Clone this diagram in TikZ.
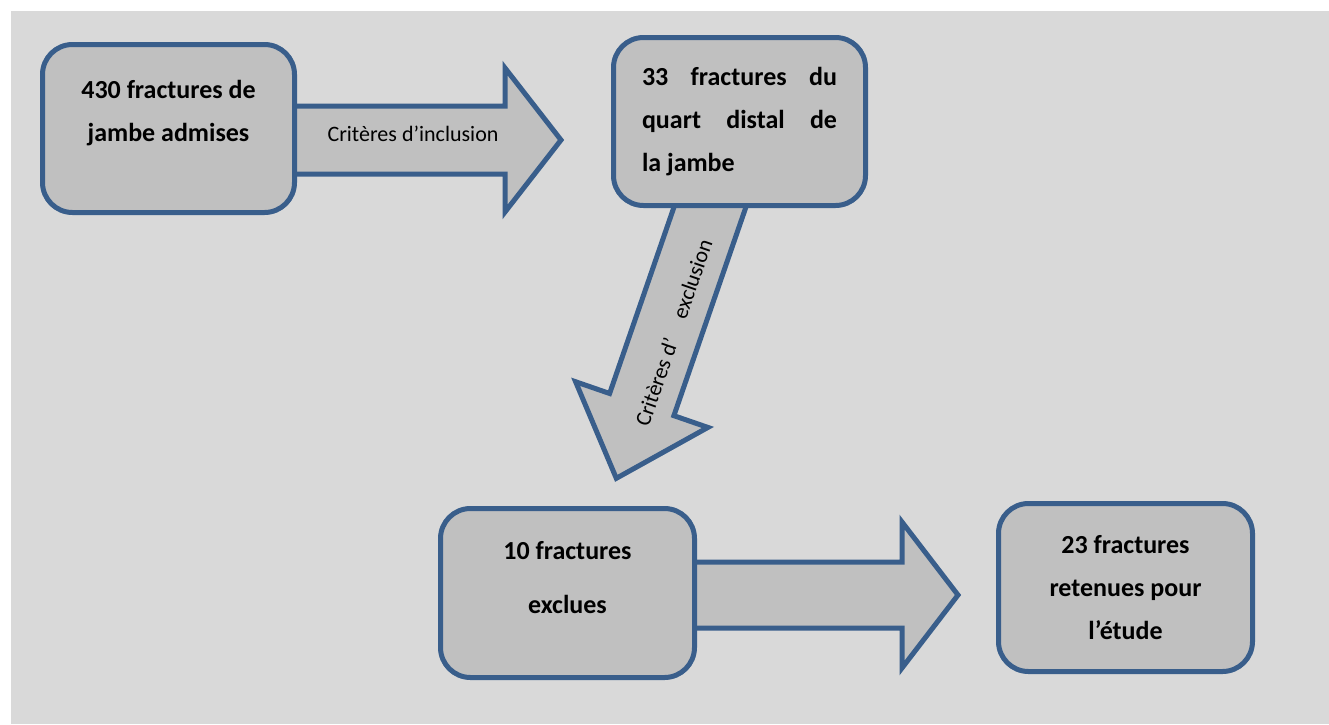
\documentclass[tikz,border=0pt]{standalone}
\usepackage{fontspec}
\setmainfont{Carlito}
\usepackage{xcolor}
\usepackage{tikz}
\usetikzlibrary{calc, backgrounds}
\definecolor{bgcolor}{RGB}{217,217,217}
\definecolor{boxcolor}{RGB}{192,192,192}
\definecolor{edgecolor}{RGB}{57,94,139}

% wide flat arrow: tail, tip, half shaft, half head, head length
\newcommand{\blockarrow}[5]{%
  \coordinate (ba-base) at ($(#2)!#5!(#1)$);
  \draw[bigarrow] ($(#1)!#3!90:(#2)$) -- ($(ba-base)!#3!90:(#2)$) -- ($(ba-base)!#4!90:(#2)$) -- (#2)
    -- ($(ba-base)!#4!-90:(#2)$) -- ($(ba-base)!#3!-90:(#2)$) -- ($(#1)!#3!-90:(#2)$) -- cycle;
}

\begin{document}
\begin{tikzpicture}[
            x=0.5pt, y=-0.5pt,
            block/.style={rectangle, draw=edgecolor, line width=2.5pt, rounded corners=15pt, fill=boxcolor, minimum width=126pt, minimum height=84pt, font=\bfseries\fontsize{13}{21.5}\selectfont, align=center},
            bigarrow/.style={draw=edgecolor, line width=2.5pt, fill=boxcolor},
            arrowlabel/.style={font=\fontsize{11}{13}\selectfont, inner sep=0pt}
        ]
            \useasboundingbox (0,0) rectangle (1329,724);
            \node[block] (admitted) at (168.5,128.5) {430 fractures de\\jambe admises\\[-4pt]\mbox{}};
            \node[block, align=justify, text width=97.5pt] (distal) at (739.5,121.5) {33\hfill fractures\hfill du\\quart\hfill distal\hfill de\\la jambe};
            \node[block, minimum width=127pt, minimum height=84.5pt] (excluded) at (567.5,593) {10 fractures\\[5.5pt]exclues\\[-6pt]\mbox{}};
            \node[block, minimum width=127pt] (retained) at (1125.5,587.5) {23 fractures\\retenues pour\\l’étude};

            \coordinate (inclTip) at (561,140);
            \coordinate (inclTail) at (admitted.center |- inclTip);
            \coordinate (exclTip) at (616.3,478.3);
            \coordinate (keptTip) at (958,595);
            \coordinate (keptTail) at (excluded.center |- keptTip);

            \begin{pgfonlayer}{background}
                \fill[bgcolor] (11,11) rectangle (1329,724);
                \blockarrow{inclTail}{inclTip}{17pt}{36pt}{28pt}
                \blockarrow{distal.center}{exclTip}{17pt}{35pt}{39pt}
                \blockarrow{keptTail}{keptTip}{16.5pt}{36.5pt}{28pt}
            \end{pgfonlayer}

            \node[arrowlabel] (inclLabel) at (413,134) {Critères d’inclusion};
            \node[arrowlabel, rotate=70.9] (exclLabel) at (673.5,332.5) {Critères d’\quad exclusion};
        \end{tikzpicture}
\end{document}
